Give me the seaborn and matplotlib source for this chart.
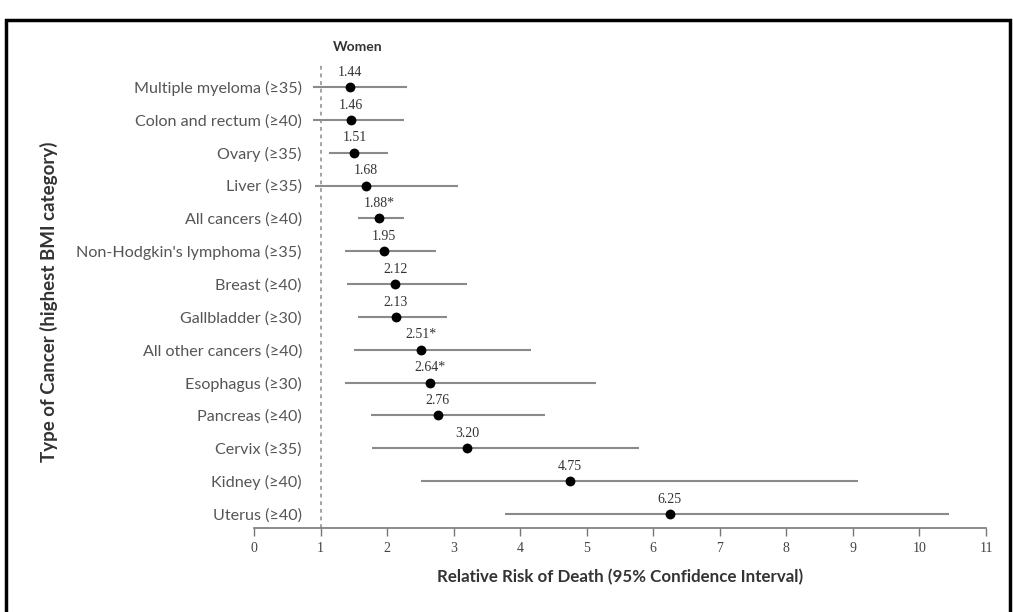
import matplotlib
matplotlib.use("Agg")
import matplotlib.pyplot as plt
import seaborn as sns
import pandas as pd
from matplotlib.patches import Rectangle

categories = [
    "Multiple myeloma (≥35)", "Colon and rectum (≥40)", "Ovary (≥35)", "Liver (≥35)",
    "All cancers (≥40)", "Non-Hodgkin's lymphoma (≥35)", "Breast (≥40)", "Gallbladder (≥30)",
    "All other cancers (≥40)", "Esophagus (≥30)", "Pancreas (≥40)", "Cervix (≥35)",
    "Kidney (≥40)", "Uterus (≥40)",
]
rr = [1.44, 1.46, 1.51, 1.68, 1.88, 1.95, 2.12, 2.13, 2.51, 2.64, 2.76, 3.20, 4.75, 6.25]
ci_low = [0.89, 0.89, 1.12, 0.92, 1.56, 1.37, 1.40, 1.56, 1.51, 1.36, 1.76, 1.77, 2.51, 3.77]
ci_high = [2.30, 2.26, 2.02, 3.06, 2.26, 2.74, 3.20, 2.90, 4.16, 5.14, 4.37, 5.79, 9.08, 10.44]
labels = ["1.44", "1.46", "1.51", "1.68", "1.88*", "1.95", "2.12", "2.13", "2.51*", "2.64*",
          "2.76", "3.20", "4.75", "6.25"]
xticks = list(range(0, 12))

df = pd.DataFrame({"cat": categories, "rr": rr, "lo": ci_low, "hi": ci_high, "lab": labels})
df["pos"] = range(len(df))

sns.set_style("white")
plt.rcParams["font.family"] = ["Lato", "DejaVu Sans"]

W, H = 1013, 612
fig = plt.figure(figsize=(W / 100, H / 100), dpi=100)
ax = fig.add_axes([254 / W, 1 - 528 / H, (986 - 254) / W, (528 - 60) / H])

ax.hlines(df["pos"], df["lo"], df["hi"], color="#8a8a8a", lw=1.5, zorder=1)
sns.scatterplot(data=df, x="rr", y="pos", color="black", s=50, edgecolor="black",
                linewidth=0, ax=ax, zorder=3, legend=False)
ax.axvline(1, ymax=0.99, color="#8a8a8a", lw=1.1, ls=(0, (2.5, 2.5)), zorder=0)

for _, r in df.iterrows():
    ax.annotate(r["lab"], (r["rr"], r["pos"]), xytext=(0, 6), textcoords="offset points",
                ha="center", va="bottom", fontsize=10, family="Liberation Serif",
                color="#333333")

ax.set_xlim(0, 11)
ax.set_ylim(13.426, -0.822)
ax.set_xticks(xticks)
ax.set_xticklabels([str(t) for t in xticks], fontsize=10, color="#444444",
                   family="Liberation Serif")
ax.set_yticks(df["pos"])
ax.set_yticklabels(df["cat"], fontsize=11.6, color="#555555")
ax.tick_params(axis="y", length=0, pad=-34.5)
ax.tick_params(axis="x", bottom=True, length=6, width=1, color="#777777",
               direction="out", pad=4)
for s in ["top", "right", "left"]:
    ax.spines[s].set_visible(False)
ax.spines["bottom"].set_color("#777777")
ax.spines["bottom"].set_linewidth(1.2)

ax.set_xlabel("Relative Risk of Death (95% Confidence Interval)", fontsize=12.2,
              fontweight="bold", color="#333333", labelpad=10)
ax.set_ylabel("Type of Cancer (highest BMI category)", fontsize=13.5,
              fontweight="bold", color="#333333")
ax.yaxis.set_label_coords(-(254 - 58) / (986 - 254), 0.483)

fig.text(358 / W, 1 - 47 / H, "Women", ha="center", va="center", fontsize=10,
         fontweight="bold", color="#333333")

fig.patches.append(Rectangle((6 / W, -0.05), (1010 - 6) / W, 1.05 - 20 / H,
                             transform=fig.transFigure, fill=False,
                             edgecolor="black", lw=2.5))

fig.savefig("out.png", dpi=100)
